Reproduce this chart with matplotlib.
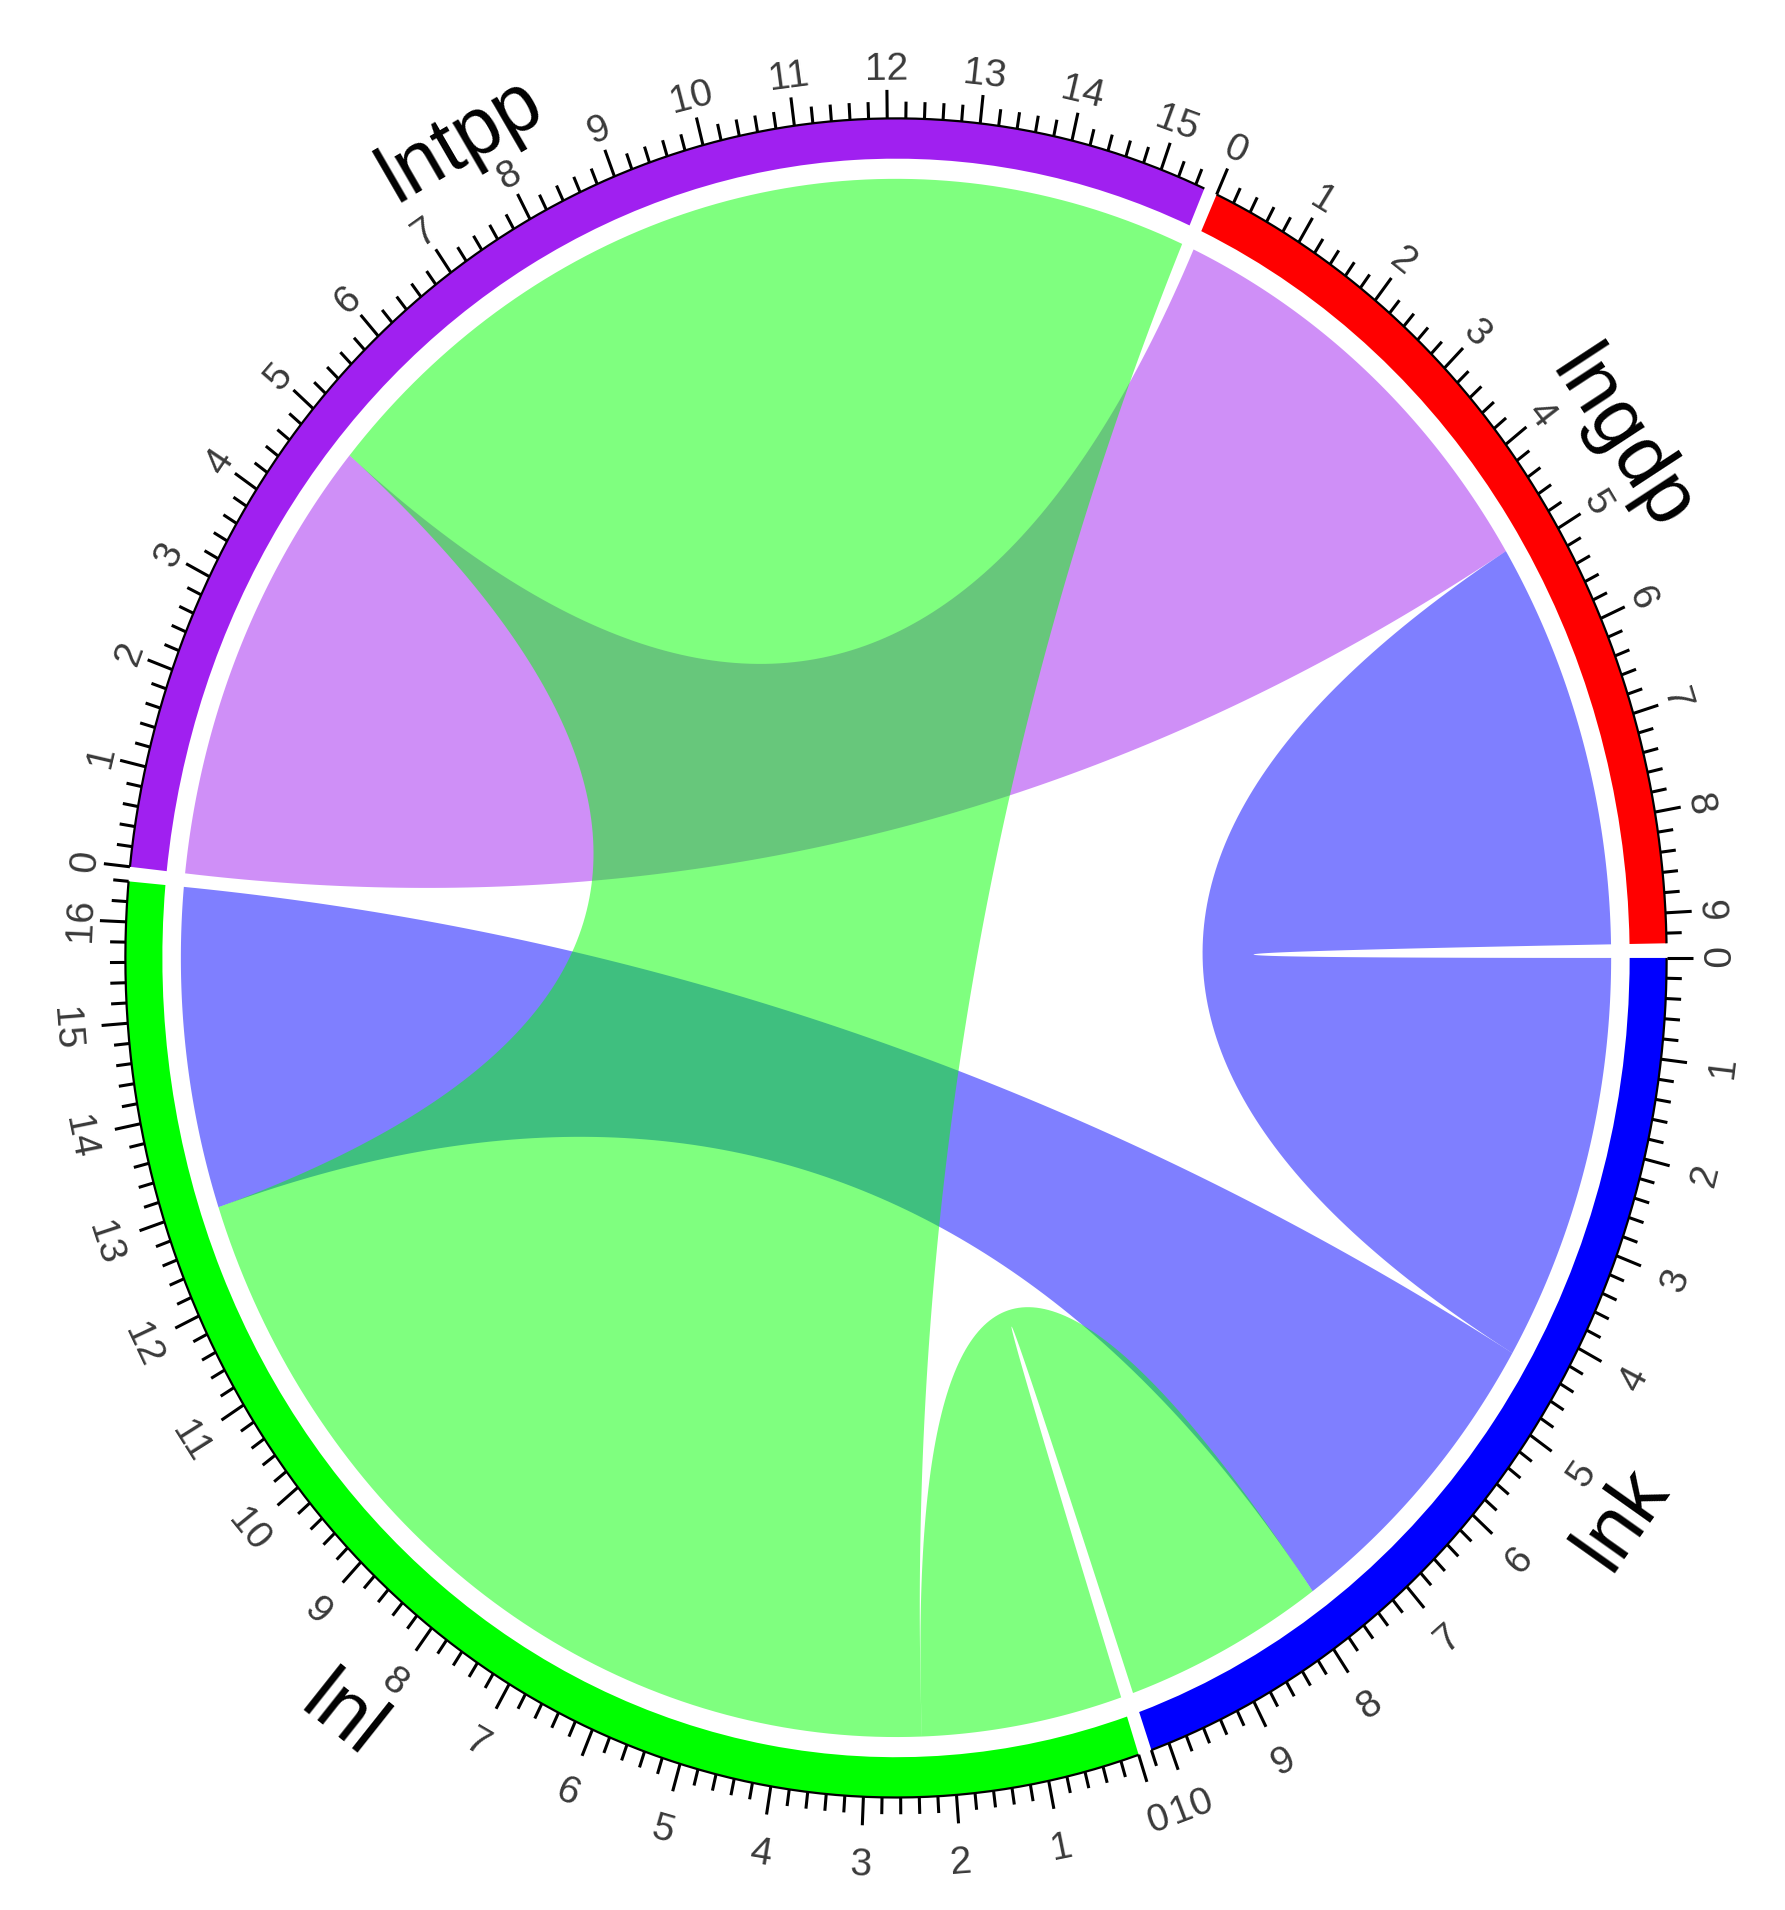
import numpy as np
import matplotlib
matplotlib.use("Agg")
import matplotlib.pyplot as plt
from matplotlib.patches import Wedge

plt.rcParams["font.family"] = ["Liberation Sans", "DejaVu Sans"]

# --- data -------------------------------------------------------------
sectors = ["lngdp", "lnk", "lnl", "lntpp"]
sector_colors = ["#FF0000", "#0000FF", "#00FF00", "#A020F0"]
link_from = ["lntpp", "lnk", "lnk", "lnl", "lnl"]
link_to = ["lngdp", "lngdp", "lnl", "lntpp", "lnk"]
link_value = [4.9, 4.4, 3.45, 10.6, 2.35]

GAP = 1.0          # degrees between sectors
R_OUT, R_IN = 1.0, 0.952   # grid track
R_LINK = 0.928
ALPHA = 0.5

idx = {s: i for i, s in enumerate(sectors)}
n_links = len(link_value)

# sector widths = all link ends falling in each sector
totals = np.zeros(len(sectors))
for f, t, v in zip(link_from, link_to, link_value):
    totals[idx[f]] += v
    totals[idx[t]] += v

deg_per_unit = (360 - GAP * len(sectors)) / totals.sum()

# lnk starts at 3 o'clock, sectors go clockwise
start = np.zeros(len(sectors))
start[0] = GAP + totals[0] * deg_per_unit
for i in range(1, len(sectors)):
    start[i] = start[i - 1] - totals[i - 1] * deg_per_unit - GAP


def theta(sec, p):
    return np.deg2rad(start[sec] - p * deg_per_unit)


# order of link ends inside each sector: outgoing (by target), then incoming (reversed)
ends = {}
for s in range(len(sectors)):
    out = sorted([k for k in range(n_links) if idx[link_from[k]] == s],
                 key=lambda k: idx[link_to[k]])
    inc = sorted([k for k in range(n_links) if idx[link_to[k]] == s],
                 key=lambda k: -idx[link_from[k]])
    pos = 0.0
    for k in out:
        ends[(k, "from")] = (s, pos, pos + link_value[k])
        pos += link_value[k]
    for k in inc:
        ends[(k, "to")] = (s, pos, pos + link_value[k])
        pos += link_value[k]


def arc_pts(sec, p1, p2, r, n=80):
    th = np.linspace(theta(sec, p1), theta(sec, p2), n)
    return np.column_stack([r * np.cos(th), r * np.sin(th)])


def bez_pts(a, b, n=120):
    t = np.linspace(0, 1, n)[:, None]
    return (1 - t) ** 2 * a + t ** 2 * b   # control point at the centre


fig = plt.figure(figsize=(17.85, 19.10), dpi=100)
ax = fig.add_axes([0, 0, 1, 1])
ax.set_xlim(-1.1627, 1.1536)
ax.set_ylim(-1.134, 1.141)
ax.axis("off")

# --- links ------------------------------------------------------------
for k in range(n_links):
    sa, a1, a2 = ends[(k, "from")]
    sb, b1, b2 = ends[(k, "to")]
    arcA = arc_pts(sa, a1, a2, R_LINK)
    arcB = arc_pts(sb, b1, b2, R_LINK)
    c1 = bez_pts(arcA[-1], arcB[0])
    c2 = bez_pts(arcB[-1], arcA[0])
    verts = np.vstack([arcA, c1, arcB, c2])
    col = sector_colors[idx[link_from[k]]]
    ax.add_patch(plt.Polygon(verts, closed=True, facecolor=col, alpha=ALPHA,
                             edgecolor="none", zorder=2))

# --- grid track, axis, labels ------------------------------------------
for s, name in enumerate(sectors):
    th1 = start[s] - totals[s] * deg_per_unit
    th2 = start[s]
    ax.add_patch(Wedge((0, 0), R_OUT, th1, th2, width=R_OUT - R_IN,
                       facecolor=sector_colors[s], edgecolor="none", zorder=3))
    # axis base line
    pts = arc_pts(s, 0, totals[s], R_OUT, n=200)
    ax.plot(pts[:, 0], pts[:, 1], color="black", lw=1.6, zorder=4,
            solid_capstyle="butt")
    # ticks
    for p in np.arange(0, totals[s] + 1e-9, 0.2):
        major = abs(p - round(p)) < 1e-6
        L = 0.034 if major else 0.02
        th = theta(s, p)
        ax.plot([R_OUT * np.cos(th), (R_OUT + L) * np.cos(th)],
                [R_OUT * np.sin(th), (R_OUT + L) * np.sin(th)],
                color="black", lw=2.2, zorder=4, solid_capstyle="butt")
    # tick labels
    for v in range(int(np.floor(totals[s] + 1e-9)) + 1):
        th = theta(s, v)
        deg = np.rad2deg(th)
        if np.sin(th) >= 0:
            rot, r = deg - 90, 1.058
        else:
            rot, r = deg + 90, 1.082
        ax.text(r * np.cos(th), r * np.sin(th), str(v), rotation=rot,
                rotation_mode="anchor", ha="center", va="center",
                fontsize=28, color="#3a3a3a", zorder=5)
    # sector name
    thm = theta(s, totals[s] / 2)
    degm = np.rad2deg(thm)
    if np.sin(thm) >= 0:
        rot, r = degm - 90, 1.125
    else:
        rot, r = degm + 90, 1.155
    ax.text(r * np.cos(thm), r * np.sin(thm), name, rotation=rot,
            rotation_mode="anchor", ha="center", va="center",
            fontsize=58, color="black", zorder=5)

fig.savefig("out.png", dpi=100)
